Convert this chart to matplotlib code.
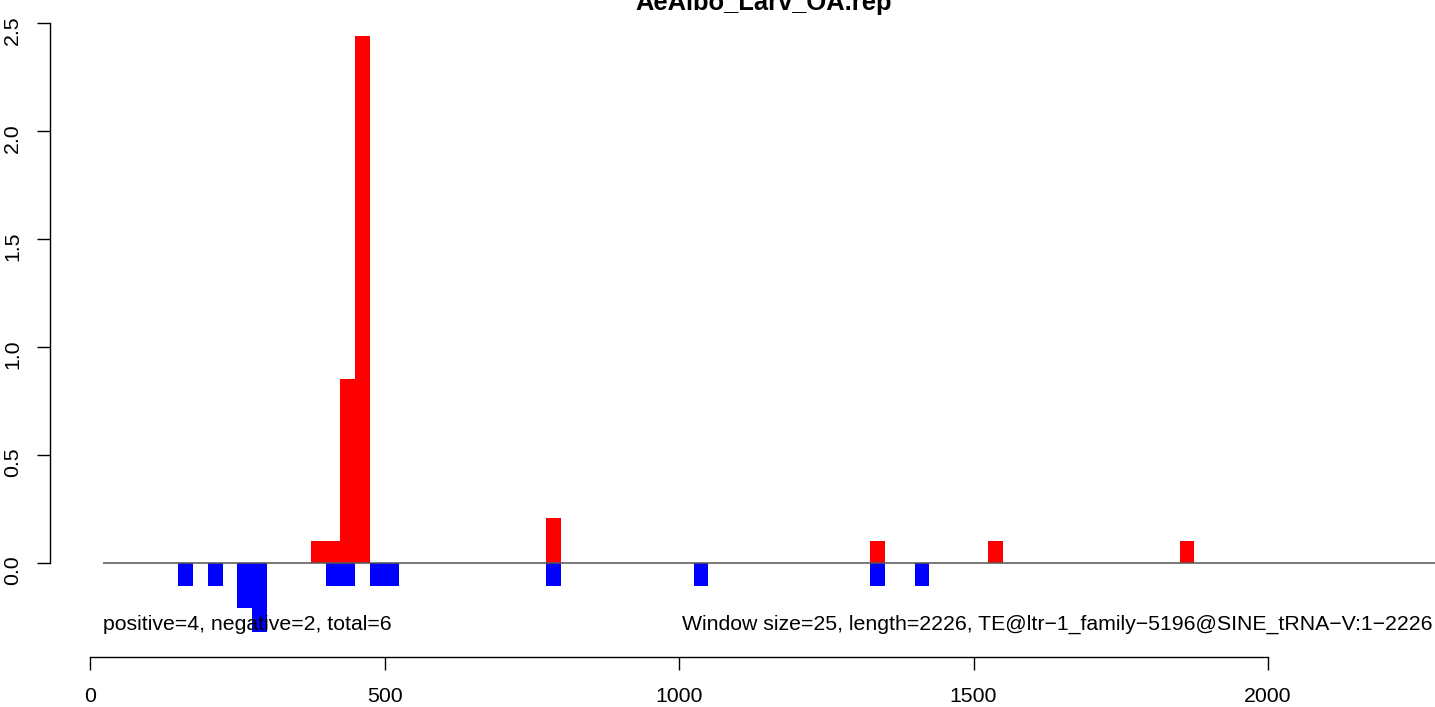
import matplotlib
matplotlib.use("Agg")
import matplotlib.pyplot as plt

plt.rcParams['font.family'] = ['Liberation Sans', 'DejaVu Sans']

# window starts (window size 25) and normalised counts
pos_start = [375, 400, 425, 450, 775, 1325, 1525, 1850]
pos_val = [0.1, 0.1, 0.85, 2.44, 0.21, 0.1, 0.1, 0.1]
neg_start = [150, 200, 250, 275, 400, 425, 475, 500, 775, 1025, 1325, 1400]
neg_val = [-0.105, -0.105, -0.21, -0.32, -0.105, -0.105, -0.105, -0.105,
           -0.105, -0.105, -0.105, -0.105]
win = 25
title = "AeAlbo_Larv_OA.rep"
left_txt = "positive=4, negative=2, total=6"
right_txt = "Window size=25, length=2226, TE@ltr\u22121_family\u22125196@SINE_tRNA\u2212V:1\u22122226"

W, H = 1435, 707
fig = plt.figure(figsize=(W / 100, H / 100), dpi=100)
ax = fig.add_axes([0, 0, 1, 1])

# pixel mapping
sx = (1268 - 90) / 2000.0
sy = 216.0
ax.set_xlim(-90 / sx, (W - 90) / sx)
ax.set_ylim(-(H - 563) / sy, 563 / sy)

ax.bar(pos_start, pos_val, width=win, align='edge', color='#ff0000', linewidth=0)
ax.bar(neg_start, neg_val, width=win, align='edge', color='#0000ff', linewidth=0)
ax.hlines(0, 22, 2400, color='#555555', lw=1.1, zorder=3)

# axes like R base graphics
for s in ['top', 'right']:
    ax.spines[s].set_visible(False)
ax.spines['bottom'].set_position(('data', -(657 - 563) / sy))
ax.spines['bottom'].set_bounds(0, 2000)
ax.spines['left'].set_position(('data', (50 - 90) / sx))
ax.spines['left'].set_bounds(0, 2.5)
for s in ['bottom', 'left']:
    ax.spines[s].set_linewidth(1.0)
ax.set_xticks([0, 500, 1000, 1500, 2000])
ax.set_yticks([0, 0.5, 1.0, 1.5, 2.0, 2.5])
ax.set_yticklabels(['0.0', '0.5', '1.0', '1.5', '2.0', '2.5'])
ax.tick_params(axis='both', direction='out', length=9.5, width=1.0, labelsize=15.3)
ax.tick_params(axis='x', pad=12)
ax.tick_params(axis='y', pad=10.5, labelrotation=90)

ax.text(22, -(630 - 563) / sy, left_txt, fontsize=15.3, ha='left', va='baseline')
ax.text((1432 - 90) / sx, -(630 - 563) / sy, right_txt, fontsize=15.3, ha='right', va='baseline')
fig.text(764 / W, 1 - 10 / H, title, fontsize=18.4, fontweight='bold', ha='center', va='baseline')

fig.savefig("out.png", dpi=100)
